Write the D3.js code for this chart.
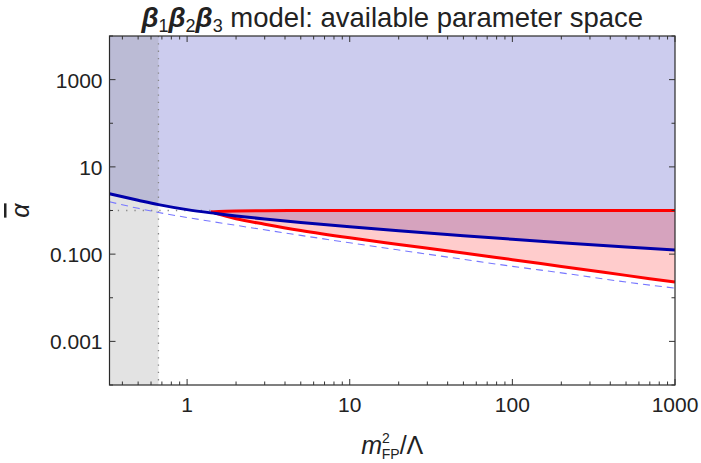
<!DOCTYPE html>
<html>
<head>
<meta charset="utf-8">
<script src="https://cdn.jsdelivr.net/npm/d3@7"></script>
<style>
  body { margin: 0; background: #fff; }
  svg { display: block; }
</style>
</head>
<body>
<svg width="701" height="463"></svg>
<script>

// axis data
let xDomain = [1 / 3, 1000];
let yDomain = [1e-4, 1e4];
let xTickValues = [1, 10, 100, 1000];
let xTickLabels = ['1', '10', '100', '1000'];
let yTickValues = [1000, 10, 0.1, 0.001];
let yTickLabels = ['1000', '10', '0.100', '0.001'];
let yMinorValues = [1e4, 100, 1, 0.01, 1e-4];

// excluded band and reference level
let bandX = [1 / 3, 2 / 3];
let alphaRef = 1;
let alphaRefEnd = 1.4;

// blue bound (lower edge of blue region)
let blueX = [0.333, 0.5, 0.667, 1, 1.5, 2, 3, 5, 10, 20, 50, 100, 200, 500, 1000];
let blueY = [2.42, 1.72, 1.365, 1.047, 0.855, 0.75, 0.638, 0.531, 0.424, 0.344, 0.264, 0.219, 0.183, 0.1455, 0.124];

// red band, lower and upper edge
let redX = [1.4, 2, 3, 5, 10, 20, 50, 100, 200, 500, 1000];
let redLow = [0.93, 0.645, 0.484, 0.347, 0.236, 0.167, 0.1066, 0.0746, 0.0523, 0.0326, 0.0228];
let redUp = [0.93, 0.98, 0.99, 1.0, 1.0, 1.0, 1.0, 1.0, 1.0, 1.0, 1.0];

// dashed curve
let dashX = [0.333, 0.5, 0.667, 1, 2, 5, 10, 20, 50, 100, 200, 500, 1000];
let dashY = [1.585, 1.122, 0.902, 0.692, 0.457, 0.269, 0.182, 0.1245, 0.0759, 0.0525, 0.0372, 0.0229, 0.0166];

let svg = d3.select('svg')
    .style('font-family', '"Liberation Sans", Arial, sans-serif');
let width = +svg.attr('width');
let height = +svg.attr('height');
let margin = { top: 36, right: 26, bottom: 78, left: 109.5 };

let x = d3.scaleLog().domain(xDomain).range([margin.left, width - margin.right]);
let y = d3.scaleLog().domain(yDomain).range([height - margin.bottom, margin.top]);

svg.append('clipPath').attr('id', 'clip')
    .append('rect')
    .attr('x', margin.left).attr('y', margin.top)
    .attr('width', x.range()[1] - margin.left)
    .attr('height', y.range()[0] - margin.top);

let plot = svg.append('g').attr('clip-path', 'url(#clip)');

let blueData = blueX.map((d, i) => [d, blueY[i]]);
let redData = redX.map((d, i) => [d, redLow[i], redUp[i]]);
let dashData = dashX.map((d, i) => [d, dashY[i]]);

// blue region: from blue bound up to the top
plot.append('path')
    .datum(blueData)
    .attr('d', d3.area().curve(d3.curveMonotoneX)
        .x(d => x(d[0])).y0(y(yDomain[1])).y1(d => y(d[1])))
    .style('fill', '#0000aa')
    .style('fill-opacity', 0.2);

// red region
plot.append('path')
    .datum(redData)
    .attr('d', d3.area().curve(d3.curveMonotoneX)
        .x(d => x(d[0])).y0(d => y(d[1])).y1(d => y(d[2])))
    .style('fill', '#ff0000')
    .style('fill-opacity', 0.2);

// grey excluded band
plot.append('rect')
    .attr('x', x(bandX[0]))
    .attr('y', margin.top)
    .attr('width', x(bandX[1]) - x(bandX[0]))
    .attr('height', y.range()[0] - margin.top)
    .style('fill', '#808080')
    .style('fill-opacity', 0.22);

// dotted guides
plot.append('line')
    .attr('x1', x(bandX[1])).attr('x2', x(bandX[1]))
    .attr('y1', margin.top).attr('y2', y.range()[0])
    .style('stroke', '#888').style('stroke-width', 1.3)
    .style('stroke-dasharray', '1.3,6');

plot.append('line')
    .attr('x1', x(xDomain[0])).attr('x2', x(alphaRefEnd))
    .attr('y1', y(alphaRef)).attr('y2', y(alphaRef))
    .style('stroke', '#888').style('stroke-width', 1.3)
    .style('stroke-dasharray', '1.3,7');

// dashed curve
plot.append('path')
    .datum(dashData)
    .attr('d', d3.line().curve(d3.curveMonotoneX).x(d => x(d[0])).y(d => y(d[1])))
    .style('fill', 'none')
    .style('stroke', '#7777ff')
    .style('stroke-width', 1.1)
    .style('stroke-dasharray', '7,5');

// red edges
let redLine = d3.line().curve(d3.curveMonotoneX).x(d => x(d[0]));
plot.append('path')
    .datum(redData)
    .attr('d', redLine.y(d => y(d[1])))
    .style('fill', 'none').style('stroke', '#ff0000').style('stroke-width', 3);
plot.append('path')
    .datum(redData)
    .attr('d', redLine.y(d => y(d[2])))
    .style('fill', 'none').style('stroke', '#ff0000').style('stroke-width', 3);

// blue edge
plot.append('path')
    .datum(blueData)
    .attr('d', d3.line().curve(d3.curveMonotoneX).x(d => x(d[0])).y(d => y(d[1])))
    .style('fill', 'none').style('stroke', '#0000aa').style('stroke-width', 3);

// frame
let x0 = x.range()[0], x1 = x.range()[1], y0 = y.range()[0], y1 = y.range()[1];
svg.append('rect')
    .attr('x', x0).attr('y', y1)
    .attr('width', x1 - x0).attr('height', y0 - y1)
    .style('fill', 'none').style('stroke', '#2a2a2a').style('stroke-width', 1.2);

// ticks
let xMinor = [];
[0.1, 1, 10, 100].forEach(dec => {
    for (let k = 2; k <= 9; k++) {
        let v = dec * k;
        if (v >= xDomain[0] && v <= xDomain[1]) xMinor.push(v);
    }
});

let ticks = svg.append('g').style('stroke', '#333').style('stroke-width', 1);
xTickValues.forEach(v => {
    ticks.append('line').attr('x1', x(v)).attr('x2', x(v)).attr('y1', y0).attr('y2', y0 - 6);
    ticks.append('line').attr('x1', x(v)).attr('x2', x(v)).attr('y1', y1).attr('y2', y1 + 6);
});
xMinor.forEach(v => {
    ticks.append('line').attr('x1', x(v)).attr('x2', x(v)).attr('y1', y0).attr('y2', y0 - 3.5);
    ticks.append('line').attr('x1', x(v)).attr('x2', x(v)).attr('y1', y1).attr('y2', y1 + 3.5);
});
yTickValues.forEach(v => {
    ticks.append('line').attr('x1', x0).attr('x2', x0 + 6).attr('y1', y(v)).attr('y2', y(v));
    ticks.append('line').attr('x1', x1).attr('x2', x1 - 6).attr('y1', y(v)).attr('y2', y(v));
});
yMinorValues.forEach(v => {
    ticks.append('line').attr('x1', x0).attr('x2', x0 + 3.5).attr('y1', y(v)).attr('y2', y(v));
    ticks.append('line').attr('x1', x1).attr('x2', x1 - 3.5).attr('y1', y(v)).attr('y2', y(v));
});

// tick labels
svg.append('g').selectAll('text')
    .data(xTickValues)
    .enter().append('text')
    .attr('x', d => x(d))
    .attr('y', y0 + 27)
    .attr('text-anchor', 'middle')
    .style('fill', '#222')
    .style('font-size', '21px')
    .text((d, i) => xTickLabels[i]);

svg.append('g').selectAll('text')
    .data(yTickValues)
    .enter().append('text')
    .attr('x', x0 - 7)
    .attr('y', d => y(d) + 8)
    .attr('text-anchor', 'end')
    .style('fill', '#222')
    .style('font-size', '21px')
    .text((d, i) => yTickLabels[i]);

// title
let title = svg.append('text')
    .attr('x', (x0 + x1) / 2)
    .attr('y', 27)
    .attr('text-anchor', 'middle')
    .style('fill', '#222')
    .style('font-size', '27.5px');
['1', '2', '3'].forEach(s => {
    title.append('tspan').style('font-weight', 'bold').style('font-style', 'italic').attr('dy', s === '1' ? 0 : -5).text('β');
    title.append('tspan').style('font-size', '18px').attr('dy', 5).text(s);
});
title.append('tspan').attr('dy', -5).text(' model: available parameter space');

// x label
let xl = svg.append('text')
    .attr('x', (x0 + x1) / 2)
    .attr('y', 454)
    .attr('text-anchor', 'middle')
    .style('fill', '#222')
    .style('font-size', '25px');
xl.append('tspan').style('font-style', 'italic').text('m');
xl.append('tspan').style('font-size', '14px').attr('dy', -11).text('2');
xl.append('tspan').style('font-size', '14px').attr('dx', -8).attr('dy', 16).text('FP');
xl.append('tspan').attr('dy', -5).text('/Λ');

// y label
svg.append('text')
    .attr('transform', 'translate(' + 29 + ',' + ((y0 + y1) / 2) + ')rotate(-90)')
    .attr('text-anchor', 'middle')
    .style('fill', '#222')
    .style('font-size', '25px')
    .style('font-style', 'italic')
    .style('text-decoration', 'overline')
    .text('α');

</script>
</body>
</html>
